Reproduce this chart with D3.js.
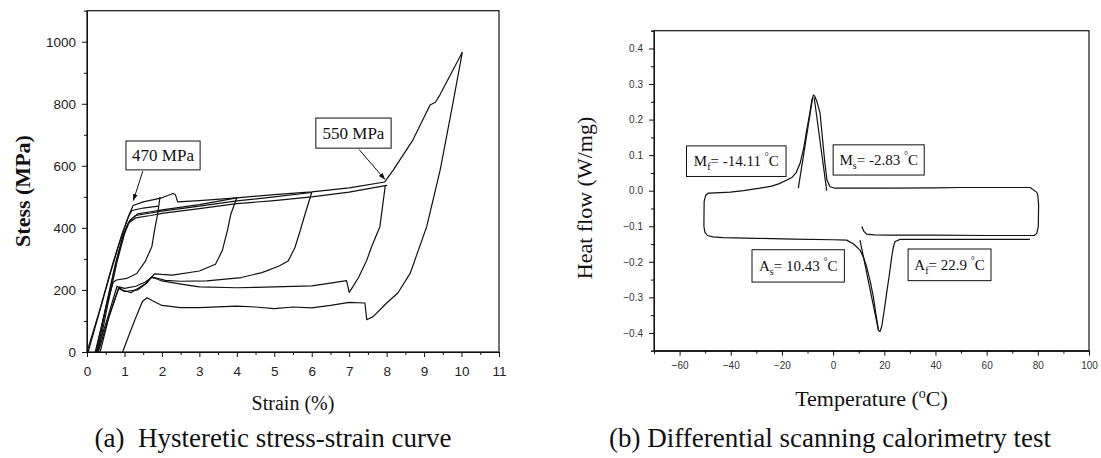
<!DOCTYPE html>
<html>
<head>
<meta charset="utf-8">
<script src="https://d3js.org/d3.v7.min.js"></script>
<style>
  body { margin: 0; background: #fff; }
  svg { display: block; }
  .serif { font-family: "Liberation Serif", "Times New Roman", serif; fill: #111; }
  .tickA text { font-family: "Liberation Sans", Arial, sans-serif; font-size: 13.5px; fill: #222; }
  .tickB text { font-family: "Liberation Sans", Arial, sans-serif; font-size: 10px; fill: #333; }
  .domain, .tick line { stroke: #111; }
</style>
</head>
<body>
<script>
// ---- (a) stress-strain: strain (%), stress (MPa)
const strainTicks = [0, 1, 2, 3, 4, 5, 6, 7, 8, 9, 10, 11];
const stressTicks = [0, 200, 400, 600, 800, 1000];

const firstLoad = [[0.03,0],[0.3,115],[0.6,245],[0.9,365],[1.1,435],[1.23,472],[1.5,484],[2.0,497],[2.3,511],[2.36,507],[2.42,484],[3.0,488],[4.0,497],[5.0,507],[6.0,516],[7.0,529],[7.95,548],[8.18,587],[8.7,683],[9.16,796],[9.3,805],[9.42,828],[10.02,966]];
const unload10 = [[10.02,966],[9.77,802],[9.43,587],[9.07,404],[8.63,254],[8.3,190],[8.0,158],[7.64,114],[7.47,104],[7.42,158],[7.0,160],[6.5,150],[6.0,142],[5.5,145],[5.0,140],[4.5,145],[4.0,148],[3.0,143],[2.5,143],[2.0,150],[1.75,165],[1.6,175],[1.48,163],[1.25,95],[0.95,0]];
const outerLoad = [[0.0,0],[0.35,140],[0.7,290],[0.95,385],[1.12,440],[1.2,456],[1.5,464],[1.9,470]];
const unload2 = [[1.95,500],[1.88,440],[1.82,404],[1.73,339],[1.55,291],[1.33,253],[1.06,237],[0.79,232],[0.7,225],[0.5,140],[0.3,40],[0.22,0]];
const cycle4 = [[0.3,0],[0.55,150],[0.8,290],[1.0,380],[1.15,425],[1.35,445],[1.7,452],[2.0,458],[3.0,475],[4.0,497],[3.84,444],[3.75,392],[3.61,326],[3.43,283],[3.0,261],[2.28,248],[2.0,250],[1.8,252],[1.72,240],[1.55,225],[1.3,212],[1.0,205],[0.85,210],[0.6,120],[0.35,0]];
const cycle6 = [[0.27,0],[0.52,150],[0.78,290],[0.98,380],[1.12,420],[1.3,440],[1.7,448],[2.0,454],[3.0,470],[4.0,487],[5.0,500],[6.0,514],[5.82,444],[5.69,390],[5.55,336],[5.37,293],[5.13,277],[4.67,256],[4.12,240],[3.2,229],[2.5,228],[2.09,231],[1.8,240],[1.72,242],[1.6,222],[1.35,200],[1.0,195],[0.85,205],[0.55,100],[0.3,0]];
const cycle8 = [[0.24,0],[0.5,145],[0.76,285],[0.96,375],[1.1,415],[1.3,432],[1.7,440],[2.0,447],[3.0,462],[4.0,478],[5.0,488],[6.0,500],[7.0,515],[8.0,537],[7.96,533],[7.82,404],[7.6,340],[7.47,296],[7.25,240],[7.07,205],[7.0,192],[6.93,230],[6.5,222],[6.0,213],[5.0,210],[4.5,208],[4.0,207],[3.0,210],[2.55,218],[2.0,229],[1.85,236],[1.72,240],[1.54,218],[1.17,191],[0.95,200],[0.8,212],[0.55,110],[0.26,0]];
const stressCurves = [firstLoad, unload10, outerLoad, unload2, cycle4, cycle6, cycle8];

// labels: text, box corners (strain, stress), arrow from -> to
const stressNotes = [
  { text: "470 MPa", box: [1.04, 680, 3.02, 587], arrow: [[1.49, 583], [1.24, 489]] },
  { text: "550 MPa", box: [6.11, 754, 8.12, 657], arrow: [[7.26, 653], [7.95, 557]] }
];

// ---- (b) DSC: temperature (°C), heat flow (W/mg)
const tempTicks = [-60, -40, -20, 0, 20, 40, 60, 80, 100];
const flowTicks = [-0.4, -0.3, -0.2, -0.1, 0.0, 0.1, 0.2, 0.3, 0.4];

const dscCurve = [[11.2,-0.101],[12,-0.114],[13.1,-0.122],[16,-0.124],[21.7,-0.125],[40,-0.125],[60,-0.126],[78.6,-0.126],[79.6,-0.12],[80.2,-0.1],[80.3,-0.04],[80.0,-0.012],[79.5,-0.004],[77,0.009],[70,0.009],[49.7,0.009],[40,0.008],[22.4,0.007],[10,0.007],[0.7,0.007],[-1.2,0.011],[-2.4,0.03],[-3.2,0.077],[-4.2,0.15],[-5.1,0.218],[-6.3,0.25],[-7.2,0.266],[-7.7,0.269],[-8.3,0.255],[-9.2,0.215],[-10.3,0.171],[-11.5,0.12],[-12.9,0.077],[-14.5,0.05],[-16,0.038],[-18.1,0.03],[-21,0.02],[-24,0.013],[-28.6,0.007],[-35,0.0],[-40.2,-0.004],[-46,-0.006],[-48.8,-0.007],[-49.8,-0.013],[-50.4,-0.03],[-50.5,-0.1],[-50.1,-0.117],[-49.1,-0.126],[-47,-0.13],[-43,-0.132],[-30,-0.134],[-15.7,-0.136],[0,-0.138],[5.3,-0.139],[8,-0.15],[10.5,-0.167],[12,-0.19],[13.1,-0.214],[14.5,-0.255],[15.7,-0.298],[16.8,-0.35],[17.7,-0.392],[18.3,-0.396],[19,-0.382],[20,-0.335],[20.9,-0.289],[22,-0.235],[22.9,-0.186],[23.5,-0.16],[24.2,-0.143],[26.2,-0.137],[35,-0.137],[50,-0.137],[65,-0.137],[76.9,-0.137]];
const tangentMf = [[-13.6,0.007],[-8.0,0.262]];
const tangentMs = [[-7.4,0.262],[-2.5,0.0]];
const tangentAs = [[10.5,-0.139],[17.7,-0.392]];
const dscCurves = [dscCurve, tangentMf, tangentMs, tangentAs];

// labels: symbol, subscript, value, box corners (temperature, heat flow)
const dscNotes = [
  { sym: "M", sub: "f", val: "= -14.11 ", box: [-57.3, 0.126, -18.4, 0.040] },
  { sym: "M", sub: "s", val: "= -2.83 ", box: [0.0, 0.129, 35.6, 0.044] },
  { sym: "A", sub: "s", val: "= 10.43 ", box: [-31.7, -0.166, 4.4, -0.257] },
  { sym: "A", sub: "f", val: "= 22.9 ", box: [29.3, -0.164, 61.7, -0.253] }
];

const width = 1101, height = 458;
const svg = d3.select("body").append("svg").attr("width", width).attr("height", height);

svg.append("defs").append("marker")
  .attr("id", "head").attr("viewBox", "0 0 10 10")
  .attr("refX", 9).attr("refY", 5)
  .attr("markerWidth", 7).attr("markerHeight", 7)
  .attr("orient", "auto")
  .append("path").attr("d", "M0,1.5 L10,5 L0,8.5 Z").attr("fill", "#111");

// ===== panel (a)
const xA = d3.scaleLinear().domain([0, 11]).range([87, 499]);
const yA = d3.scaleLinear().domain([0, 1100]).range([352, 10.7]);
const gA = svg.append("g");

gA.append("g").attr("class", "tickA").attr("transform", `translate(0,${yA(0)})`)
  .call(d3.axisBottom(xA).tickValues(d3.range(0.5, 11, 1)).tickSize(3).tickFormat(""));
gA.append("g").attr("class", "tickA").attr("transform", `translate(0,${yA(0)})`)
  .call(d3.axisBottom(xA).tickValues(strainTicks).tickSize(5).tickPadding(9).tickSizeOuter(0));
gA.append("g").attr("class", "tickA").attr("transform", `translate(${xA(0)},0)`)
  .call(d3.axisLeft(yA).tickValues(d3.range(100, 1100, 200)).tickSize(3).tickFormat(""));
gA.append("g").attr("class", "tickA").attr("transform", `translate(${xA(0)},0)`)
  .call(d3.axisLeft(yA).tickValues(stressTicks).tickSize(5).tickPadding(6).tickSizeOuter(0)
    .tickFormat(d3.format("d")));
gA.append("rect")
  .attr("x", xA(0)).attr("y", yA(1100))
  .attr("width", xA(11) - xA(0)).attr("height", yA(0) - yA(1100))
  .attr("fill", "none").attr("stroke", "#111").attr("stroke-width", 1.2);

const lineA = d3.line().x(d => xA(d[0])).y(d => yA(d[1]));
gA.selectAll("path.curve").data(stressCurves).enter().append("path")
  .attr("class", "curve").attr("d", lineA)
  .attr("fill", "none").attr("stroke", "#111").attr("stroke-width", 1.2)
  .attr("stroke-linejoin", "round");

stressNotes.forEach(n => {
  gA.append("rect")
    .attr("x", xA(n.box[0])).attr("y", yA(n.box[1]))
    .attr("width", xA(n.box[2]) - xA(n.box[0])).attr("height", yA(n.box[3]) - yA(n.box[1]))
    .attr("fill", "#fff").attr("stroke", "#111").attr("stroke-width", 1);
  gA.append("text").attr("class", "serif")
    .attr("x", (xA(n.box[0]) + xA(n.box[2])) / 2)
    .attr("y", (yA(n.box[1]) + yA(n.box[3])) / 2 + 6)
    .attr("text-anchor", "middle").attr("font-size", 17).text(n.text);
  gA.append("line")
    .attr("x1", xA(n.arrow[0][0])).attr("y1", yA(n.arrow[0][1]))
    .attr("x2", xA(n.arrow[1][0])).attr("y2", yA(n.arrow[1][1]))
    .attr("stroke", "#111").attr("stroke-width", 1).attr("marker-end", "url(#head)");
});

gA.append("text").attr("class", "serif")
  .attr("transform", "translate(30,191) rotate(-90)")
  .attr("text-anchor", "middle").attr("font-size", 22).attr("font-weight", "bold")
  .text("Stess (MPa)");
gA.append("text").attr("class", "serif")
  .attr("x", (xA(0) + xA(11)) / 2).attr("y", 410)
  .attr("text-anchor", "middle").attr("font-size", 20)
  .text("Strain (%)");

// ===== panel (b)
const xB = d3.scaleLinear().domain([-70, 100]).range([654, 1089]);
const yB = d3.scaleLinear().domain([-0.45, 0.45]).range([350.7, 30.7]);
const gB = svg.append("g");

gB.append("g").attr("class", "tickB").attr("transform", `translate(0,${yB(-0.45)})`)
  .call(d3.axisBottom(xB).tickValues(d3.range(-70, 100, 20)).tickSize(3).tickFormat(""));
gB.append("g").attr("class", "tickB").attr("transform", `translate(0,${yB(-0.45)})`)
  .call(d3.axisBottom(xB).tickValues(tempTicks).tickSize(5).tickPadding(6).tickSizeOuter(0));
gB.append("g").attr("class", "tickB").attr("transform", `translate(${xB(-70)},0)`)
  .call(d3.axisLeft(yB).tickValues(d3.range(-0.45, 0.46, 0.1)).tickSize(3).tickFormat(""));
gB.append("g").attr("class", "tickB").attr("transform", `translate(${xB(-70)},0)`)
  .call(d3.axisLeft(yB).tickValues(flowTicks).tickSize(5).tickPadding(6).tickSizeOuter(0)
    .tickFormat(d3.format(".1f")));
gB.append("rect")
  .attr("x", xB(-70)).attr("y", yB(0.45))
  .attr("width", xB(100) - xB(-70)).attr("height", yB(-0.45) - yB(0.45))
  .attr("fill", "none").attr("stroke", "#111").attr("stroke-width", 1.2);

const lineB = d3.line().x(d => xB(d[0])).y(d => yB(d[1]));
gB.selectAll("path.curve").data(dscCurves).enter().append("path")
  .attr("class", "curve").attr("d", lineB)
  .attr("fill", "none").attr("stroke", "#111").attr("stroke-width", 1.2)
  .attr("stroke-linejoin", "round");

dscNotes.forEach(n => {
  const bx0 = xB(n.box[0]), by0 = yB(n.box[1]), bx1 = xB(n.box[2]), by1 = yB(n.box[3]);
  gB.append("rect")
    .attr("x", bx0).attr("y", by0).attr("width", bx1 - bx0).attr("height", by1 - by0)
    .attr("fill", "#fff").attr("stroke", "#111").attr("stroke-width", 1);
  const t = gB.append("text").attr("class", "serif")
    .attr("x", (bx0 + bx1) / 2).attr("y", (by0 + by1) / 2 + 5)
    .attr("text-anchor", "middle").attr("font-size", 15);
  t.append("tspan").text(n.sym);
  t.append("tspan").attr("font-size", 10).attr("dy", 4).text(n.sub);
  t.append("tspan").attr("dy", -4).text(n.val);
  t.append("tspan").attr("font-size", 10).attr("dy", -6).text("°");
  t.append("tspan").attr("dy", 6).text("C");
});

gB.append("text").attr("class", "serif")
  .attr("transform", "translate(592,198) rotate(-90)")
  .attr("text-anchor", "middle").attr("font-size", 22)
  .text("Heat flow (W/mg)");
const tl = gB.append("text").attr("class", "serif")
  .attr("x", (xB(-70) + xB(100)) / 2).attr("y", 406)
  .attr("text-anchor", "middle").attr("font-size", 22);
tl.append("tspan").text("Temperature (");
tl.append("tspan").attr("font-size", 14).attr("dy", -8).text("o");
tl.append("tspan").attr("dy", 8).text("C)");

// captions
svg.append("text").attr("class", "serif")
  .attr("x", 273).attr("y", 447).attr("text-anchor", "middle")
  .attr("font-size", 27).style("white-space", "pre")
  .text("(a)  Hysteretic stress-strain curve");
svg.append("text").attr("class", "serif")
  .attr("x", 830).attr("y", 447).attr("text-anchor", "middle")
  .attr("font-size", 27)
  .text("(b) Differential scanning calorimetry test");
</script>
</body>
</html>
